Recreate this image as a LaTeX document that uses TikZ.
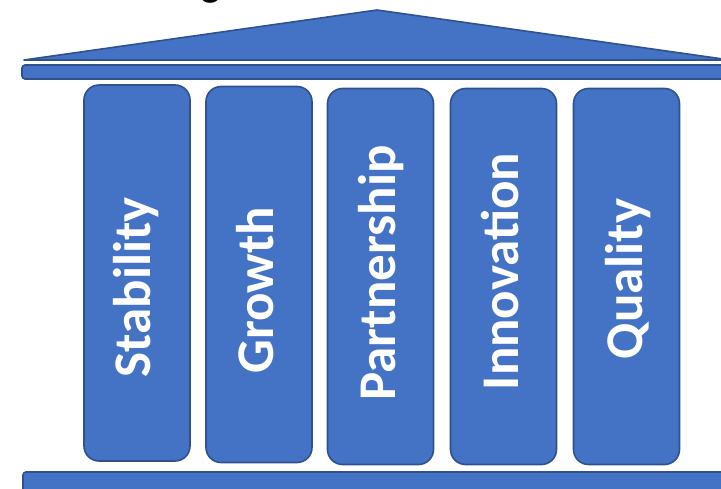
\documentclass[tikz,border=0pt]{standalone}
\usepackage{fontspec}
\setmainfont{Carlito}
\usepackage{tikz}
\usetikzlibrary{positioning}
\definecolor{pillarblue}{HTML}{4472C4}
\definecolor{pillaredge}{HTML}{2F528F}
\tikzset{
  slab/.style={draw=pillaredge,line width=1.6pt,fill=pillarblue},
  pillar/.style={slab,rounded corners=15pt,minimum width=106pt,
            minimum height=376pt,inner sep=0pt},
  value/.style={rotate=90,anchor=base,text=white,
            font=\fontsize{53}{53}\selectfont\bfseries},
}
\begin{document}
\begin{tikzpicture}[x=1pt,y=-1pt]
  \useasboundingbox (0,0) rectangle (721,489);
  % cut-off title
  \node[anchor=base,font=\fontsize{40}{40}\selectfont\bfseries] (title) at (211,-3) {g};
  % roof and beam
  \draw[slab,line join=round] (24,60) -- (377,10) -- (730,60) -- cycle;
  \draw[slab,rounded corners=3pt] (22,65) rectangle (745,79);
  % pillars
  \node[pillar] (p1) at (137,273)   {};
  \node[pillar] (p2) at (259,274.5) {};
  \node[pillar] (p3) at (380.5,276.5) {};
  \node[pillar] (p4) at (503.5,276.5) {};
  \node[pillar] (p5) at (626.5,276.5) {};
  % pillar labels
  \node[value] (p1t) at (150,287.5) {Stability};
  \node[value] (p2t) at (273,290)   {Growth};
  \node[value] (p3t) at (395,273)   {Partnership};
  \node[value] (p4t) at (518,271.5) {Innovation};
  \node[value] (p5t) at (642,279)   {Quality};
  % base
  \draw[slab,rounded corners=3pt] (23,472) rectangle (745,510);
\end{tikzpicture}
\end{document}
